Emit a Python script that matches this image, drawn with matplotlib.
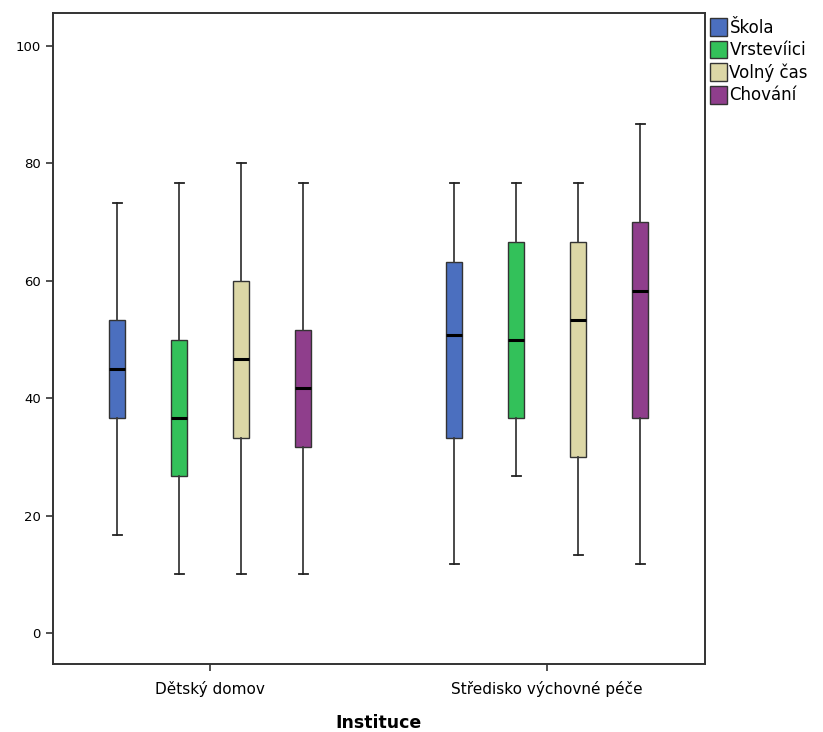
import matplotlib.pyplot as plt
from matplotlib.patches import Patch

# ── Data ─────────────────────────────────────────────────────────────────────
groups = ["Dětský domov", "Středisko výchovné péče"]
series = ["Škola", "Vrstevíici", "Volný čas", "Chování"]
colors = ["#4b6fbf", "#33c15a", "#dcd7a6", "#8f3e8c"]

# per group, per series: whisker low, Q1, median, Q3, whisker high
whislo = [[16.7, 10.0, 10.0, 10.0],
          [11.7, 26.7, 13.3, 11.7]]
q1     = [[36.7, 26.7, 33.3, 31.7],
          [33.3, 36.7, 30.0, 36.7]]
med    = [[45.0, 36.7, 46.7, 41.7],
          [50.8, 50.0, 53.3, 58.3]]
q3     = [[53.3, 50.0, 60.0, 51.7],
          [63.3, 66.7, 66.7, 70.0]]
whishi = [[73.3, 76.7, 80.0, 76.7],
          [76.7, 76.7, 76.7, 86.7]]

offsets = [-0.276, -0.092, 0.092, 0.276]
box_w = 0.047

fig = plt.figure(figsize=(8.23, 7.32), dpi=100)
ax = fig.add_axes([0.064, 0.0925, 0.793, 0.8895])

for gi in range(len(groups)):
    for si in range(len(series)):
        stats = [{
            "whislo": whislo[gi][si], "q1": q1[gi][si], "med": med[gi][si],
            "q3": q3[gi][si], "whishi": whishi[gi][si], "fliers": [],
        }]
        ax.bxp(
            stats, positions=[gi + offsets[si]], widths=box_w,
            capwidths=0.027, patch_artist=True, showfliers=False,
            boxprops=dict(facecolor=colors[si], edgecolor="#333333", linewidth=1.0),
            medianprops=dict(color="black", linewidth=2.2),
            whiskerprops=dict(color="#3a3a3a", linewidth=1.3),
            capprops=dict(color="#222222", linewidth=1.3),
        )

ax.set_xlim(-0.467, 1.469)
ax.set_ylim(-5.3, 105.6)
ax.set_xticks([0, 1])
ax.set_xticklabels(groups, fontsize=11)
ax.set_yticks([0, 20, 40, 60, 80, 100])
ax.tick_params(axis="y", labelsize=9.5, length=5, width=1.2, color="#333333")
ax.tick_params(axis="x", length=5, width=1.2, color="#333333", pad=7)
for sp in ax.spines.values():
    sp.set_color("#333333")
    sp.set_linewidth(1.4)

ax.set_xlabel("Instituce", fontsize=12.5, fontweight="bold", labelpad=12)

handles = [Patch(facecolor=c, edgecolor="#333333", linewidth=1.0) for c in colors]
ax.legend(
    handles, series, loc="upper left", bbox_to_anchor=(1.0, 1.0),
    frameon=False, fontsize=12, handlelength=1.0, handleheight=1.25,
    handletextpad=0.15, labelspacing=0.25, borderaxespad=0.2, borderpad=0.1,
)

fig.savefig("out.png", dpi=100)
